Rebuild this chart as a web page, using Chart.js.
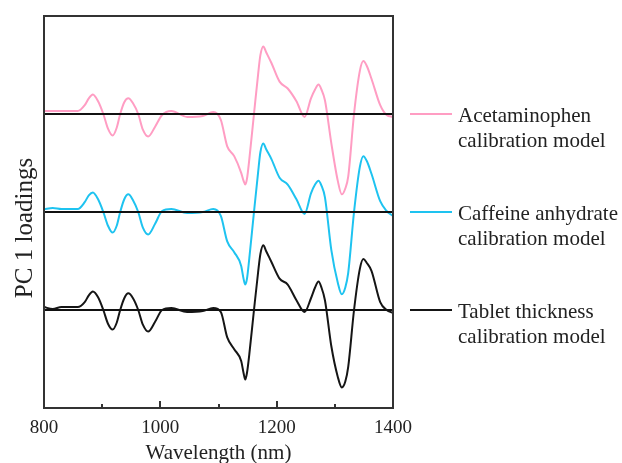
<!DOCTYPE html>
<html>
<head>
<meta charset="utf-8">
<script src="https://cdn.jsdelivr.net/npm/chart.js@4.4.0/dist/chart.umd.min.js"></script>
<style>
  html, body { margin: 0; padding: 0; background: #fff; }
</style>
</head>
<body>
<canvas id="loadings" width="622" height="463"></canvas>
<script>
// wavelength grid (nm) the curves were read at
const wavelengths = [800, 815, 830, 858, 870, 877, 884, 893, 902, 910, 918, 925, 931, 938, 945, 953, 962, 970, 979, 991,
  1003, 1019, 1046, 1073, 1091, 1104, 1115, 1127, 1139, 1143, 1146, 1149, 1153, 1161, 1168, 1172, 1177, 1182, 1191, 1205,
  1219, 1234, 1248, 1259, 1266, 1272, 1277, 1283, 1294, 1305, 1312, 1318, 1323, 1333, 1343, 1349, 1355, 1363, 1378, 1389,
  1400];

// PC 1 loadings (arbitrary units, relative to each model's own zero line)
const acetaminophen = [0.03, 0.03, 0.03, 0.03, 0.09, 0.16, 0.20, 0.13, 0.00, -0.15, -0.22, -0.14, 0.00, 0.12, 0.16, 0.11, 0.00, -0.16, -0.23, -0.13,
  -0.01, 0.03, -0.03, -0.02, 0.02, -0.06, -0.33, -0.43, -0.60, -0.68, -0.72, -0.66, -0.46, 0.00, 0.40, 0.60, 0.69, 0.63, 0.52, 0.33,
  0.26, 0.13, -0.03, 0.16, 0.25, 0.30, 0.25, 0.14, -0.30, -0.68, -0.82, -0.76, -0.64, 0.00, 0.44, 0.54, 0.49, 0.36, 0.09, -0.01,
  -0.03];
const caffeine = [0.03, 0.04, 0.03, 0.03, 0.10, 0.17, 0.20, 0.13, 0.00, -0.14, -0.21, -0.14, 0.00, 0.13, 0.18, 0.12, 0.00, -0.16, -0.23, -0.12,
  0.01, 0.03, -0.01, 0.00, 0.03, -0.04, -0.30, -0.41, -0.55, -0.68, -0.74, -0.68, -0.47, 0.00, 0.40, 0.61, 0.70, 0.64, 0.54, 0.35,
  0.28, 0.13, -0.02, 0.19, 0.28, 0.32, 0.27, 0.15, -0.39, -0.72, -0.84, -0.77, -0.62, 0.00, 0.46, 0.57, 0.52, 0.39, 0.11, 0.01,
  -0.04];
const thickness = [0.03, 0.01, 0.03, 0.03, 0.08, 0.15, 0.19, 0.13, 0.00, -0.14, -0.20, -0.13, 0.00, 0.12, 0.17, 0.12, 0.00, -0.15, -0.22, -0.12,
  0.00, 0.02, -0.02, -0.01, 0.02, -0.02, -0.28, -0.40, -0.52, -0.64, -0.71, -0.64, -0.45, 0.00, 0.38, 0.57, 0.66, 0.60, 0.49, 0.32,
  0.26, 0.10, -0.02, 0.12, 0.23, 0.29, 0.23, 0.10, -0.37, -0.68, -0.79, -0.73, -0.58, 0.00, 0.42, 0.52, 0.48, 0.40, 0.08, 0.00,
  -0.03];

const offsets = [2, 1, 0];
const seriesNames = [
  ['Acetaminophen', 'calibration model'],
  ['Caffeine anhydrate', 'calibration model'],
  ['Tablet thickness', 'calibration model']
];
const seriesColors = ['#ff9dc3', '#1ec3f0', '#151515'];
const seriesValues = [acetaminophen, caffeine, thickness];
const minorTicks = [900, 1000, 1100, 1200, 1300];

const serif = 'Liberation Serif';

let datasets = [];
// zero lines first so they sit on top of the curves
offsets.forEach(off => {
    datasets.push({
        data: [{x: 800, y: off}, {x: 1400, y: off}],
        borderColor: '#111',
        borderWidth: 2,
        pointRadius: 0
    });
});
seriesValues.forEach((vals, k) => {
    datasets.push({
        label: seriesNames[k].join(' '),
        data: wavelengths.map((w, i) => ({x: w, y: offsets[k] + vals[i]})),
        borderColor: seriesColors[k],
        borderWidth: 2,
        pointRadius: 0,
        cubicInterpolationMode: 'monotone'
    });
});

const frame = {
    id: 'frame',
    afterDraw(chart) {
        const ctx = chart.ctx;
        const a = chart.chartArea;
        const x = chart.scales.x;
        const y = chart.scales.y;
        ctx.save();
        ctx.strokeStyle = '#333';
        ctx.lineWidth = 2;
        ctx.strokeRect(a.left, a.top, a.right - a.left, a.bottom - a.top);
        // inward ticks
        minorTicks.forEach(v => {
            const px = Math.round(x.getPixelForValue(v));
            const len = v % 200 === 0 ? 7 : 4;
            ctx.beginPath();
            ctx.moveTo(px, a.bottom);
            ctx.lineTo(px, a.bottom - len);
            ctx.stroke();
        });
        // y title
        ctx.fillStyle = '#222';
        ctx.font = '25px "' + serif + '"';
        ctx.textAlign = 'center';
        ctx.textBaseline = 'middle';
        ctx.translate(25, 228);
        ctx.rotate(-Math.PI / 2);
        ctx.fillText('PC 1 loadings', 0, 0);
        ctx.restore();

        // legend next to each zero line
        ctx.save();
        ctx.font = '21px "' + serif + '"';
        ctx.fillStyle = '#222';
        ctx.textAlign = 'left';
        ctx.textBaseline = 'alphabetic';
        offsets.forEach((off, k) => {
            const py = y.getPixelForValue(off);
            ctx.strokeStyle = seriesColors[k];
            ctx.lineWidth = 2;
            ctx.beginPath();
            ctx.moveTo(410, py);
            ctx.lineTo(452, py);
            ctx.stroke();
            ctx.fillText(seriesNames[k][0], 458, py + 8);
            ctx.fillText(seriesNames[k][1], 458, py + 33);
        });
        ctx.restore();
    }
};

new Chart(document.getElementById('loadings'), {
    type: 'line',
    data: { datasets: datasets },
    options: {
        responsive: false,
        animation: false,
        layout: { padding: { top: 16, right: 229, left: 0, bottom: 0 } },
        plugins: {
            legend: { display: false },
            tooltip: { enabled: false }
        },
        scales: {
            x: {
                type: 'linear',
                min: 800,
                max: 1400,
                afterFit: s => { s.height = 55; },
                grid: { display: false, drawTicks: false },
                border: { display: false },
                ticks: {
                    stepSize: 200,
                    padding: 9,
                    color: '#222',
                    font: { family: serif, size: 19 },
                    callback: v => String(v)
                },
                title: {
                    display: true,
                    text: 'Wavelength (nm)',
                    color: '#222',
                    font: { family: serif, size: 21, lineHeight: 0.9 },
                    padding: { top: 0, bottom: 0 }
                }
            },
            y: {
                min: -1,
                max: 3,
                afterFit: s => { s.width = 44; },
                grid: { display: false, drawTicks: false },
                border: { display: false },
                ticks: { display: false }
            }
        }
    },
    plugins: [frame]
});
</script>
</body>
</html>
